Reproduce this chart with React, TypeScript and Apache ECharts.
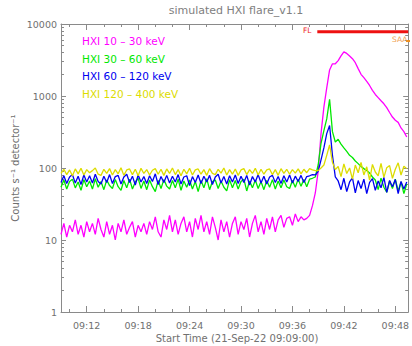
import React, { useEffect, useRef } from "react";
import * as echarts from "echarts";

// Sampling: one value every 20 s starting at 09:09:00 (minutes after 09:00)
const START_MIN = 9;
const STEP_MIN = 20 / 60;
const X_MAX = 49.5;

const TITLE = "simulated HXI flare_v1.1";
const X_NAME = "Start Time (21-Sep-22 09:09:00)";
const Y_NAME = "Counts s\u207B\u00B9 detector\u207B\u00B9";

const X_MAJOR = [12, 18, 24, 30, 36, 42, 48];
const X_MINOR = [10, 14, 16, 20, 22, 26, 28, 32, 34, 38, 40, 44, 46];
const Y_MAJOR = [1, 10, 100, 1000, 10000];
const Y_MINOR = [
  2, 3, 4, 5, 6, 7, 8, 9, 20, 30, 40, 50, 60, 70, 80, 90, 200, 300, 400, 500,
  600, 700, 800, 900, 2000, 3000, 4000, 5000, 6000, 7000, 8000, 9000,
];

const NAMES = ["HXI 10 \u2013 30 keV", "HXI 30 \u2013 60 keV", "HXI 60 \u2013 120 keV", "HXI 120 \u2013 400 keV"];
const COLORS = ["#ff00ff", "#00e800", "#0000f0", "#dcdc00"];

const HXI_10_30 = [
  12, 17, 11, 16, 13, 19, 12, 16, 11, 18, 13, 17, 12, 20, 14, 11, 18, 12, 16, 10,
  17, 13, 19, 12, 15, 18, 11, 16, 13, 17, 12, 18, 14, 21, 13, 11, 19, 14, 22, 13,
  19, 12, 17, 21, 13, 18, 11, 20, 14, 22, 13, 18, 12, 21, 15, 10, 19, 13, 18, 11,
  17, 21, 12, 18, 14, 20, 11, 17, 22, 13, 18, 12, 20, 14, 21, 13, 19, 22, 15, 20,
  21, 16, 23, 18, 21,
  19, 20, 22, 30, 45, 90, 300, 700, 1300, 2300, 2800, 2800, 3100, 3600, 4100,
  3900, 3600, 3300, 2900, 2400, 2000, 1800, 1600, 1400, 1200, 1050, 950, 860,
  780, 690, 590, 510, 460, 430, 360, 320, 270,
];

const HXI_30_60 = [
  54, 68, 51, 65, 70, 53, 64, 49, 69, 55, 66, 51, 71, 54, 65, 50, 68, 57, 52, 69,
  55, 49, 67, 53, 70, 51, 64, 72, 52, 66, 50, 68, 55, 47, 67, 52, 69, 56, 51, 67,
  53, 70, 49, 66, 54, 68, 51, 65, 47, 67, 53, 71, 50, 65, 68, 52, 66, 54, 48, 69,
  53, 67, 51, 65, 70, 48, 66, 53, 68, 52, 65, 50, 67, 54, 69, 51, 66, 53, 68, 55,
  52, 67, 54, 70, 56, 69, 55, 70, 72,
  75, 110, 220, 330, 480, 900, 320, 230, 250, 215, 190, 170, 150, 140, 125, 115,
  105, 98, 92, 85, 75,
  68, 50, 72, 54, 46, 66, 52, 70, 48, 64, 44, 60,
];

const HXI_60_120 = [
  63, 78, 61, 75, 81, 62, 77, 59, 80, 64, 78, 62, 82, 65, 60, 77, 63, 81, 61, 76,
  79, 60, 75, 82, 63, 77, 58, 80, 64, 76, 61, 78, 65, 83, 59, 76, 63, 79, 62, 77,
  64, 81, 60, 75, 78, 57, 76, 63, 80, 61, 77, 64, 79, 59, 75, 82, 62, 76, 60, 78,
  64, 80, 61, 77, 63, 79, 58, 76, 64, 81, 62, 77, 60, 75, 79, 63, 76, 61, 78, 64,
  80, 62, 77, 65, 79, 63, 76, 78, 81, 80,
  90, 130, 190, 300, 390, 150, 75,
  66, 50, 72, 47, 64, 73, 45, 67, 52, 70, 44, 63, 71, 49, 66, 53, 74, 46, 67, 55,
  69, 44, 65, 51, 64,
];

const HXI_120_400 = [
  84, 96, 81, 94, 78, 97, 83, 99, 80, 95, 86, 92, 100, 82, 79, 96, 84, 98, 80, 95,
  83, 101, 79, 94, 97, 81, 96, 78, 99, 84, 95, 80, 93, 98, 82, 96, 79, 97, 84, 100,
  81, 95, 78, 96, 83, 99, 80, 94, 97, 82, 95, 79, 98, 84, 81, 96, 85, 100, 80, 95,
  82, 97, 79, 94, 98, 81, 95, 84, 99, 80, 96, 82, 94, 97, 81, 95, 79, 98, 84, 96,
  82, 95, 85, 97, 83, 96, 86, 98, 94, 92,
  92, 100, 110, 150, 210, 120, 95,
  105, 76, 114, 84, 100, 70, 110, 86, 120, 80, 104, 68, 112, 88, 78, 116, 74, 101,
  108, 72, 96, 118, 80, 106, 98,
];

const SERIES_VALUES = [HXI_10_30, HXI_30_60, HXI_60_120, HXI_120_400];

// Flare flag (FL) and SAA flag
const FL_TIMES = [38.9, 49.5];
const FL_LEVEL = 7800;
const SAA_TIMES = [49.25, 49.9];
const SAA_LEVEL = 5800;

const AXIS_COLOR = "#8a8a8a";
const TEXT_COLOR = "#707070";
const FONT = "DejaVu Sans";

function pad(n: number) {
  return n < 10 ? "0" + n : "" + n;
}

export default function App() {
  const ref = useRef<HTMLDivElement>(null);

  useEffect(() => {
    if (!ref.current) return;
    const chart = echarts.init(ref.current, undefined, { renderer: "svg" });

    const xBase = (position: string, major: boolean) => ({
      type: "value",
      min: START_MIN,
      max: X_MAX,
      position,
      axisLine: { show: major, lineStyle: { color: AXIS_COLOR, width: 1 } },
      axisTick: {
        show: true,
        inside: true,
        length: major ? 6 : 3,
        customValues: major ? X_MAJOR : X_MINOR,
        lineStyle: { color: AXIS_COLOR },
      },
      axisLabel: {
        show: major && position === "bottom",
        customValues: X_MAJOR,
        formatter: (v: number) => "09:" + pad(Math.round(v)),
        color: TEXT_COLOR,
        fontFamily: FONT,
        fontSize: 9.5,
        margin: 8,
      },
      splitLine: { show: false },
    });

    const yBase = (position: string, major: boolean) => ({
      type: "log",
      logBase: 10,
      min: 1,
      max: 10000,
      position,
      axisLine: { show: major, lineStyle: { color: AXIS_COLOR, width: 1 } },
      axisTick: {
        show: true,
        inside: true,
        length: major ? 5 : 3,
        customValues: major ? Y_MAJOR : Y_MINOR,
        lineStyle: { color: AXIS_COLOR },
      },
      axisLabel: {
        show: major && position === "left",
        customValues: Y_MAJOR,
        formatter: (v: number) => String(Math.round(v)),
        color: TEXT_COLOR,
        fontFamily: FONT,
        fontSize: 9.5,
        margin: 4,
      },
      splitLine: { show: false },
    });

    const lineSeries = SERIES_VALUES.map((vals, k) => ({
      name: NAMES[k],
      type: "line",
      xAxisIndex: 0,
      yAxisIndex: 0,
      showSymbol: false,
      symbol: "none",
      lineStyle: { color: COLORS[k], width: 1.3 },
      itemStyle: { color: COLORS[k] },
      data: vals.map((v, i) => [START_MIN + i * STEP_MIN, v]),
      z: 2 + k,
    }));

    const legendTexts = NAMES.map((n, k) => ({
      type: "text",
      left: 82,
      top: 35.5 + k * 17.5,
      style: {
        text: n,
        fill: COLORS[k],
        fontFamily: FONT,
        fontSize: 10.5,
      },
    }));

    chart.setOption({
      animation: false,
      grid: { left: 61, right: 2, top: 24, bottom: 34, containLabel: false },
      xAxis: [xBase("bottom", true), xBase("bottom", false), xBase("top", true), xBase("top", false)],
      yAxis: [yBase("left", true), yBase("left", false), yBase("right", true), yBase("right", false)],
      series: [
        ...lineSeries,
        {
          type: "line",
          showSymbol: false,
          symbol: "none",
          lineStyle: { color: "#ee1111", width: 3 },
          data: FL_TIMES.map((t) => [t, FL_LEVEL]),
          z: 10,
        },
        {
          type: "line",
          showSymbol: false,
          symbol: "none",
          clip: false,
          lineStyle: { color: "#f09020", width: 2 },
          data: SAA_TIMES.map((t) => [t, SAA_LEVEL]),
          z: 10,
        },
      ],
      graphic: [
        {
          type: "text",
          x: 236,
          y: 10,
          style: {
            text: TITLE,
            fill: "#808080",
            fontFamily: FONT,
            fontSize: 11,
            align: "center",
            verticalAlign: "middle",
          },
        },
        {
          type: "text",
          x: 237,
          y: 338,
          style: {
            text: X_NAME,
            fill: TEXT_COLOR,
            fontFamily: FONT,
            fontSize: 10,
            align: "center",
            verticalAlign: "middle",
          },
        },
        {
          type: "text",
          x: 15,
          y: 168,
          rotation: Math.PI / 2,
          style: {
            text: Y_NAME,
            fill: TEXT_COLOR,
            fontFamily: FONT,
            fontSize: 10,
            align: "center",
            verticalAlign: "middle",
          },
        },
        ...legendTexts,
        {
          type: "text",
          x: 303,
          y: 30,
          style: { text: "FL", fill: "#ee2222", fontFamily: FONT, fontSize: 7.5, verticalAlign: "middle" },
        },
        {
          type: "text",
          x: 392,
          y: 39,
          style: { text: "SAA", fill: "#f0a050", fontFamily: FONT, fontSize: 7.5, verticalAlign: "middle" },
        },
      ],
    });

    return () => chart.dispose();
  }, []);

  return (
    <div
      ref={ref}
      style={{ position: "fixed", left: 0, top: 0, width: 412, height: 346, background: "#ffffff" }}
    />
  );
}
